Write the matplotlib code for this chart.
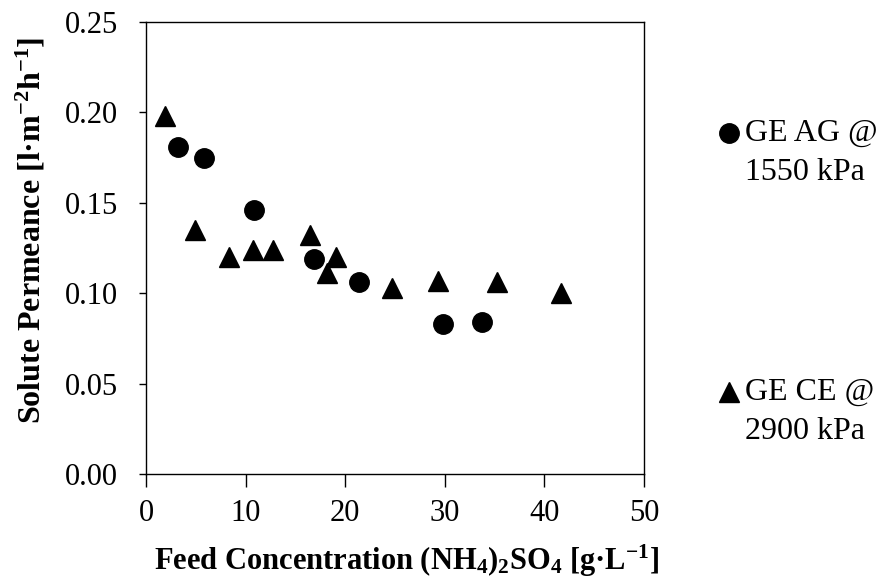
import matplotlib
matplotlib.use("Agg")
import matplotlib.pyplot as plt
from matplotlib.lines import Line2D

# ── Style ──────────────────────────────────────────────────────────────────
plt.rcParams.update({
    "font.family": "Liberation Serif",
    "mathtext.fontset": "custom",
    "mathtext.rm": "Liberation Serif",
    "mathtext.bf": "Liberation Serif:bold",
    "mathtext.it": "Liberation Serif:italic",
    "axes.linewidth": 1.0,
})

# ── Data ───────────────────────────────────────────────────────────────────
ag_conc = [3.2, 5.8, 10.8, 16.9, 21.4, 29.8, 33.7]
ag_perm = [0.181, 0.175, 0.146, 0.119, 0.106, 0.083, 0.084]

ce_conc = [1.9, 4.9, 8.3, 10.7, 12.8, 16.5, 18.2, 19.1, 24.7, 29.3, 35.2, 41.7]
ce_perm = [0.198, 0.135, 0.120, 0.124, 0.124, 0.132, 0.111, 0.120, 0.103, 0.107, 0.106, 0.100]

x_ticks = [0, 10, 20, 30, 40, 50]
y_ticks = [0.00, 0.05, 0.10, 0.15, 0.20, 0.25]

series_labels = [("GE AG @", "1550 kPa"), ("GE CE @", "2900 kPa")]
series_markers = ["o", "^"]

fig = plt.figure(figsize=(8.82, 5.84), dpi=100)
ax = fig.add_axes([0.1655, 0.1884, 0.5646, 0.7739])

ax.plot(ag_conc, ag_perm, linestyle="none", marker="o",
        markersize=14, color="black")
ax.plot(ce_conc, ce_perm, linestyle="none", marker="^",
        markersize=14, color="black")

ax.set_xlim(0, 50)
ax.set_ylim(0, 0.25)
ax.set_xticks(x_ticks)
ax.set_yticks(y_ticks)
ax.set_xticklabels([str(t) for t in x_ticks])
ax.set_yticklabels([f"{t:.2f}" for t in y_ticks])
ax.tick_params(direction="out", width=1.0, labelsize=22,
               top=False, right=False)
ax.tick_params(axis="x", length=9, pad=9)
ax.tick_params(axis="y", length=5, pad=15)

ax.set_xlabel(r"Feed Concentration (NH$_\mathbf{4}$)$_\mathbf{2}$SO$_\mathbf{4}$ [g·L$^\mathbf{-1}$]",
              fontsize=22, fontweight="bold")
ax.set_ylabel(r"Solute Permeance [l·m$^\mathbf{-2}$h$^\mathbf{-1}$]",
              fontsize=23, fontweight="bold")
ax.xaxis.set_label_coords(0.523, -0.152)
ax.yaxis.set_label_coords(-0.197, 0.540)

# legend, laid out by hand (marker beside first line, second line below)
legend_y = [(0.7723, 0.7038), (0.3288, 0.2603)]
for (line1, line2), mk, (y1, y2) in zip(series_labels, series_markers, legend_y):
    fig.add_artist(Line2D([0.8265], [y1], transform=fig.transFigure,
                          marker=mk, markersize=14, color="black",
                          linestyle="none"))
    fig.text(0.8447, y1, line1, fontsize=23, va="center", ha="left")
    fig.text(0.8447, y2, line2, fontsize=23, va="center", ha="left")

fig.savefig("out.png", dpi=100)
